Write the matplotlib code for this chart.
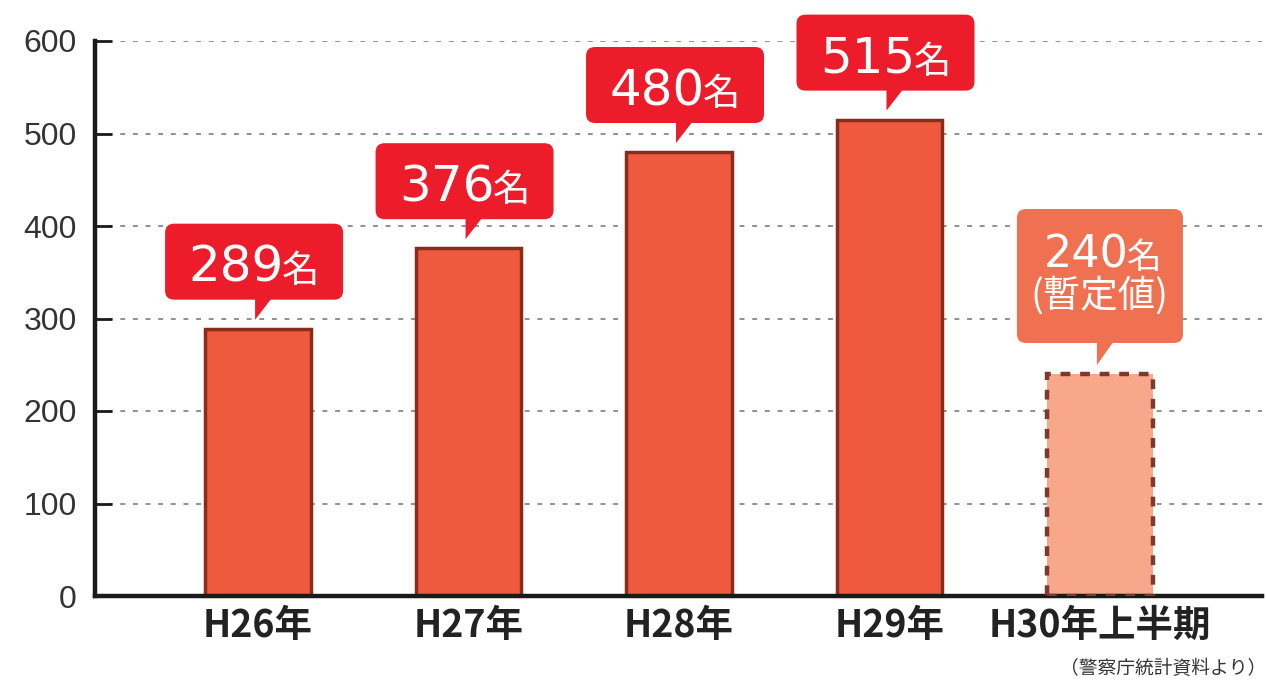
import matplotlib
matplotlib.use("Agg")
import matplotlib.pyplot as plt
from matplotlib.patches import FancyBboxPatch, Polygon
from matplotlib.transforms import ScaledTranslation, Affine2D

plt.rcParams['font.family'] = ['Noto Sans CJK JP', 'DejaVu Sans']

# data
categories = ["H26年", "H27年", "H28年", "H29年", "H30年上半期"]
values = [289, 376, 480, 515, 240]
label_nums = ["289", "376", "480", "515", "240"]
provisional = [False, False, False, False, True]
yticks = [0, 100, 200, 300, 400, 500, 600]
source_note = "（警察庁統計資料より）"

BAR_FILL = "#EF5A3E"
BAR_EDGE = "#8A2C1C"
PROV_FILL = "#F8A78A"
PROV_EDGE = "#7A3A2C"
BOX_RED = "#EC1C2A"
BOX_PROV = "#F07052"

fig = plt.figure(figsize=(12.66, 6.85), dpi=100)
ax = fig.add_axes([95 / 1266, 1 - 596 / 685, (1262 - 95) / 1266, (596 - 41) / 685])

x = list(range(len(categories)))
ax.set_xlim(-0.775, 4.77)
ax.set_ylim(0, 600)

# bars
for i, v in enumerate(values):
    if provisional[i]:
        ax.bar(i, v, width=0.5, color=PROV_FILL, zorder=2)
        ax.bar(i, v, width=0.5, fill=False, edgecolor=PROV_EDGE, linewidth=3.2,
               linestyle=(0, (2.2, 2.2)), zorder=3)
    else:
        ax.bar(i, v, width=0.5, color=BAR_FILL, edgecolor=BAR_EDGE,
               linewidth=2.5, zorder=2)

# grid
ax.set_yticks(yticks)
ax.yaxis.grid(True, color="#8f8f8f", linestyle=(0, (2.5, 4)), linewidth=1.4, zorder=0)
ax.set_axisbelow(True)

for s in ["top", "right"]:
    ax.spines[s].set_visible(False)
for s in ["left", "bottom"]:
    ax.spines[s].set_linewidth(3.2)
    ax.spines[s].set_color("#1a1a1a")

ax.tick_params(axis="y", direction="in", length=12, width=2, color="#1a1a1a",
               pad=13, labelsize=23, labelcolor="#333333")
for lbl in ax.get_yticklabels():
    lbl.set_family(["Liberation Sans", "DejaVu Sans"])
ax.set_xticks(x)
ax.set_xticklabels(categories, fontsize=27, fontweight="bold", color="#222222")
ax.tick_params(axis="x", length=0, pad=7)

NUM_FONT = ["DejaVu Sans"]

# callouts (sizes in pixels, anchored at bar top)
def callout(i, v, num, prov):
    trans = Affine2D() + ScaledTranslation(i, v, ax.transData)
    if prov:
        w, h, gap = 166, 134, 31
        color = BOX_PROV
        cx = 0
    else:
        w, h, gap = 178, 76, 29
        color = BOX_RED
        cx = -4
    bottom = gap
    box = FancyBboxPatch((cx - w / 2, bottom), w, h,
                         boxstyle="round,pad=0,rounding_size=9",
                         facecolor=color, edgecolor="none", transform=trans,
                         zorder=5, clip_on=False)
    ax.add_patch(box)
    ptr = Polygon([(-3, bottom + 2), (-3, 9), (14, bottom + 2)], closed=True,
                  facecolor=color, edgecolor="none", transform=trans,
                  zorder=5, clip_on=False)
    ax.add_patch(ptr)
    if prov:
        base1 = bottom + h - 59
        ax.text(cx + 29, base1, num, transform=trans, ha="right", va="baseline",
                color="white", fontsize=32, family=NUM_FONT, zorder=6)
        ax.text(cx + 27, base1, "名", transform=trans, ha="left", va="baseline",
                color="white", fontsize=25, zorder=6)
        ax.text(cx, bottom + 36, "(暫定値)", transform=trans, ha="center",
                va="baseline", color="white", fontsize=27, zorder=6)
    else:
        base = bottom + 18
        ax.text(cx + 30, base, num, transform=trans, ha="right", va="baseline",
                color="white", fontsize=36, family=NUM_FONT, zorder=6)
        ax.text(cx + 28, base, "名", transform=trans, ha="left", va="baseline",
                color="white", fontsize=27, zorder=6)

for i, v in enumerate(values):
    callout(i, v, label_nums[i], provisional[i])

fig.text(1266 / 1266, 1 - 668 / 685, source_note, ha="right", va="center",
         fontsize=13.5, color="#333333")

fig.savefig("out.png", dpi=100)
